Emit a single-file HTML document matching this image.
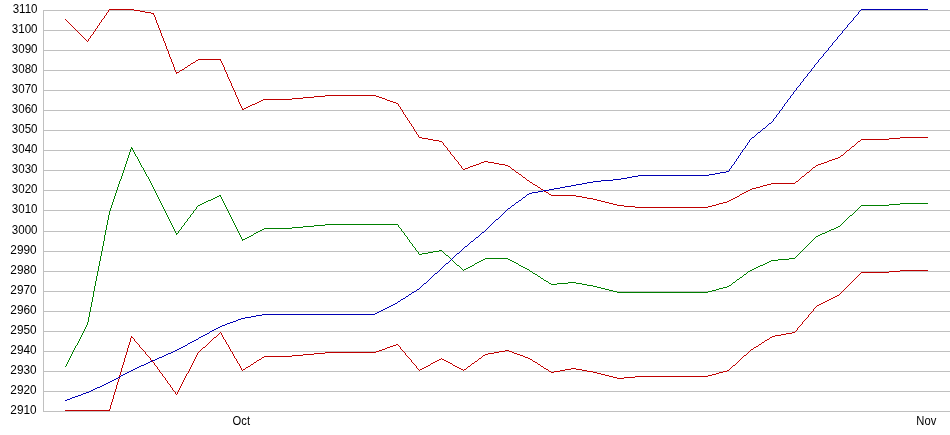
<!DOCTYPE html>
<html><head><meta charset="utf-8"><title>Chart</title>
<style>html,body{margin:0;padding:0;background:#fff;overflow:hidden;}svg{display:block;}text{font-family:"Liberation Sans",Arial,sans-serif;font-size:12px;fill:#000;}</style></head>
<body>
<svg width="950" height="435" viewBox="0 0 950 435">
<rect width="950" height="435" fill="#fff"/>
<g fill="#c0c0c0" shape-rendering="crispEdges">
<rect x="43" y="10" width="907" height="1"/>
<rect x="43" y="30" width="907" height="1"/>
<rect x="43" y="50" width="907" height="1"/>
<rect x="43" y="70" width="907" height="1"/>
<rect x="43" y="90" width="907" height="1"/>
<rect x="43" y="110" width="907" height="1"/>
<rect x="43" y="130" width="907" height="1"/>
<rect x="43" y="150" width="907" height="1"/>
<rect x="43" y="170" width="907" height="1"/>
<rect x="43" y="190" width="907" height="1"/>
<rect x="43" y="210" width="907" height="1"/>
<rect x="43" y="231" width="907" height="1"/>
<rect x="43" y="251" width="907" height="1"/>
<rect x="43" y="271" width="907" height="1"/>
<rect x="43" y="291" width="907" height="1"/>
<rect x="43" y="311" width="907" height="1"/>
<rect x="43" y="331" width="907" height="1"/>
<rect x="43" y="351" width="907" height="1"/>
<rect x="43" y="371" width="907" height="1"/>
<rect x="43" y="391" width="907" height="1"/>
<rect x="43" y="411" width="907" height="1"/>
<rect x="43" y="10" width="1" height="402"/>
</g>
<g shape-rendering="crispEdges">
<path fill="#c00000" d="M109 9h25v1h-25zM134 10h6v1h-6zM140 11h5v1h-5zM145 12h6v1h-6zM151 13h3v1h-3zM198 59h23v1h-23zM196 60h2v1h-2zM193 62h2v1h-2zM191 63h2v1h-2zM188 65h2v1h-2zM185 67h2v1h-2zM182 69h2v1h-2zM180 70h2v1h-2zM176 72h3v1h-3zM325 95h51v1h-51zM314 96h11v1h-11zM376 96h3v1h-3zM303 97h11v1h-11zM379 97h3v1h-3zM292 98h11v1h-11zM382 98h3v1h-3zM263 99h29v1h-29zM385 99h2v1h-2zM261 100h2v1h-2zM387 100h3v1h-3zM259 101h2v1h-2zM390 101h3v1h-3zM257 102h2v1h-2zM393 102h3v1h-3zM255 103h2v1h-2zM396 103h2v1h-2zM252 104h3v1h-3zM250 105h2v1h-2zM248 106h2v1h-2zM246 107h2v1h-2zM244 108h2v1h-2zM242 109h2v1h-2zM419 137h3v1h-3zM900 137h28v1h-28zM422 138h6v1h-6zM889 138h11v1h-11zM428 139h5v1h-5zM861 139h28v1h-28zM433 140h6v1h-6zM439 141h3v1h-3zM858 141h2v1h-2zM852 146h2v1h-2zM847 150h2v1h-2zM841 155h2v1h-2zM838 157h2v1h-2zM835 158h3v1h-3zM832 159h3v1h-3zM829 160h3v1h-3zM484 161h4v1h-4zM827 161h2v1h-2zM481 162h3v1h-3zM488 162h6v1h-6zM824 162h3v1h-3zM479 163h2v1h-2zM494 163h5v1h-5zM821 163h3v1h-3zM476 164h3v1h-3zM499 164h6v1h-6zM818 164h3v1h-3zM473 165h3v1h-3zM505 165h3v1h-3zM816 165h2v1h-2zM470 166h3v1h-3zM508 166h2v1h-2zM468 167h2v1h-2zM813 167h2v1h-2zM465 168h3v1h-3zM463 169h2v1h-2zM512 169h2v1h-2zM516 172h2v1h-2zM807 172h2v1h-2zM519 174h2v1h-2zM802 176h2v1h-2zM523 177h2v1h-2zM527 180h2v1h-2zM796 181h2v1h-2zM530 182h2v1h-2zM771 183h24v1h-24zM533 184h2v1h-2zM767 184h4v1h-4zM535 185h2v1h-2zM763 185h4v1h-4zM760 186h3v1h-3zM538 187h2v1h-2zM756 187h4v1h-4zM752 188h4v1h-4zM541 189h2v1h-2zM750 189h2v1h-2zM748 190h2v1h-2zM544 191h2v1h-2zM746 191h2v1h-2zM546 192h2v1h-2zM744 192h2v1h-2zM742 193h2v1h-2zM549 194h2v1h-2zM740 194h2v1h-2zM551 195h25v1h-25zM576 196h6v1h-6zM737 196h2v1h-2zM582 197h5v1h-5zM735 197h2v1h-2zM587 198h6v1h-6zM733 198h2v1h-2zM593 199h4v1h-4zM731 199h2v1h-2zM597 200h4v1h-4zM729 200h2v1h-2zM601 201h4v1h-4zM727 201h2v1h-2zM605 202h4v1h-4zM723 202h4v1h-4zM609 203h4v1h-4zM719 203h4v1h-4zM613 204h4v1h-4zM716 204h3v1h-3zM617 205h7v1h-7zM712 205h4v1h-4zM624 206h11v1h-11zM708 206h4v1h-4zM635 207h73v1h-73zM65 19h1v1h-1zM66 20h1v1h-1zM67 21h1v1h-1zM68 22h1v1h-1zM69 23h1v1h-1zM70 24h1v1h-1zM71 25h1v1h-1zM72 26h1v1h-1zM73 27h1v1h-1zM74 28h1v1h-1zM75 29h1v1h-1zM76 30h1v1h-1zM77 31h1v1h-1zM78 32h1v1h-1zM79 33h1v1h-1zM80 34h1v1h-1zM81 35h1v1h-1zM82 36h1v1h-1zM83 37h1v1h-1zM84 38h1v1h-1zM85 39h1v1h-1zM86 40h1v1h-1zM87 41h1v1h-1zM88 39h1v2h-1zM89 38h1v1h-1zM90 36h1v2h-1zM91 35h1v1h-1zM92 34h1v1h-1zM93 32h1v2h-1zM94 31h1v1h-1zM95 29h1v2h-1zM96 28h1v1h-1zM97 26h1v2h-1zM98 25h1v1h-1zM99 23h1v2h-1zM100 22h1v1h-1zM101 20h1v2h-1zM102 19h1v1h-1zM103 18h1v1h-1zM104 16h1v2h-1zM105 15h1v1h-1zM106 13h1v2h-1zM107 12h1v1h-1zM108 10h1v2h-1zM153 14h1v1h-1zM154 15h1v2h-1zM155 17h1v3h-1zM156 20h1v3h-1zM157 23h1v2h-1zM158 25h1v3h-1zM159 28h1v2h-1zM160 30h1v3h-1zM161 33h1v3h-1zM162 36h1v2h-1zM163 38h1v3h-1zM164 41h1v2h-1zM165 43h1v3h-1zM166 46h1v3h-1zM167 49h1v2h-1zM168 51h1v3h-1zM169 54h1v3h-1zM170 57h1v2h-1zM171 59h1v3h-1zM172 62h1v2h-1zM173 64h1v3h-1zM174 67h1v3h-1zM175 70h1v2h-1zM176 73h1v1h-1zM179 71h1v1h-1zM184 68h1v1h-1zM187 66h1v1h-1zM190 64h1v1h-1zM195 61h1v1h-1zM220 60h1v1h-1zM221 61h1v2h-1zM222 63h1v2h-1zM223 65h1v2h-1zM224 67h1v3h-1zM225 70h1v2h-1zM226 72h1v2h-1zM227 74h1v3h-1zM228 77h1v2h-1zM229 79h1v2h-1zM230 81h1v2h-1zM231 83h1v3h-1zM232 86h1v2h-1zM233 88h1v2h-1zM234 90h1v2h-1zM235 92h1v3h-1zM236 95h1v2h-1zM237 97h1v2h-1zM238 99h1v3h-1zM239 102h1v2h-1zM240 104h1v2h-1zM241 106h1v2h-1zM242 108h1v1h-1zM398 104h1v2h-1zM399 106h1v1h-1zM400 107h1v2h-1zM401 109h1v1h-1zM402 110h1v2h-1zM403 112h1v2h-1zM404 114h1v1h-1zM405 115h1v2h-1zM406 117h1v1h-1zM407 118h1v2h-1zM408 120h1v1h-1zM409 121h1v2h-1zM410 123h1v1h-1zM411 124h1v2h-1zM412 126h1v1h-1zM413 127h1v2h-1zM414 129h1v2h-1zM415 131h1v1h-1zM416 132h1v2h-1zM417 134h1v1h-1zM418 135h1v2h-1zM442 142h1v1h-1zM443 143h1v2h-1zM444 145h1v1h-1zM445 146h1v1h-1zM446 147h1v1h-1zM447 148h1v2h-1zM448 150h1v1h-1zM449 151h1v1h-1zM450 152h1v2h-1zM451 154h1v1h-1zM452 155h1v1h-1zM453 156h1v1h-1zM454 157h1v2h-1zM455 159h1v1h-1zM456 160h1v1h-1zM457 161h1v1h-1zM458 162h1v2h-1zM459 164h1v1h-1zM460 165h1v1h-1zM461 166h1v2h-1zM462 168h1v1h-1zM510 167h1v1h-1zM511 168h1v1h-1zM514 170h1v1h-1zM515 171h1v1h-1zM518 173h1v1h-1zM521 175h1v1h-1zM522 176h1v1h-1zM525 178h1v1h-1zM526 179h1v1h-1zM529 181h1v1h-1zM532 183h1v1h-1zM537 186h1v1h-1zM540 188h1v1h-1zM543 190h1v1h-1zM548 193h1v1h-1zM739 195h1v1h-1zM795 182h1v1h-1zM798 180h1v1h-1zM799 179h1v1h-1zM800 178h1v1h-1zM801 177h1v1h-1zM804 175h1v1h-1zM805 174h1v1h-1zM806 173h1v1h-1zM809 171h1v1h-1zM810 170h1v1h-1zM811 169h1v1h-1zM812 168h1v1h-1zM815 166h1v1h-1zM840 156h1v1h-1zM843 154h1v1h-1zM844 153h1v1h-1zM845 152h1v1h-1zM846 151h1v1h-1zM849 149h1v1h-1zM850 148h1v1h-1zM851 147h1v1h-1zM854 145h1v1h-1zM855 144h1v1h-1zM856 143h1v1h-1zM857 142h1v1h-1zM860 140h1v1h-1z"/>
<path fill="#c00000" d="M900 270h28v1h-28zM889 271h11v1h-11zM861 272h28v1h-28zM837 295h2v1h-2zM835 296h2v1h-2zM833 297h2v1h-2zM831 298h2v1h-2zM829 299h2v1h-2zM827 300h2v1h-2zM825 301h2v1h-2zM823 302h2v1h-2zM821 303h2v1h-2zM819 304h2v1h-2zM817 305h2v1h-2zM792 332h3v1h-3zM786 333h6v1h-6zM781 334h5v1h-5zM775 335h6v1h-6zM772 336h3v1h-3zM131 337h2v1h-2zM214 337h2v1h-2zM770 337h2v1h-2zM767 339h2v1h-2zM765 340h2v1h-2zM762 342h2v1h-2zM396 344h2v1h-2zM759 344h2v1h-2zM393 345h3v1h-3zM390 346h3v1h-3zM756 346h2v1h-2zM203 347h2v1h-2zM387 347h3v1h-3zM754 347h2v1h-2zM385 348h2v1h-2zM382 349h3v1h-3zM751 349h2v1h-2zM379 350h3v1h-3zM505 350h4v1h-4zM376 351h3v1h-3zM499 351h6v1h-6zM509 351h3v1h-3zM325 352h51v1h-51zM494 352h5v1h-5zM512 352h2v1h-2zM314 353h11v1h-11zM488 353h6v1h-6zM514 353h3v1h-3zM303 354h11v1h-11zM485 354h3v1h-3zM517 354h3v1h-3zM292 355h11v1h-11zM483 355h2v1h-2zM520 355h3v1h-3zM744 355h2v1h-2zM264 356h28v1h-28zM523 356h2v1h-2zM262 357h2v1h-2zM525 357h3v1h-3zM479 358h2v1h-2zM528 358h2v1h-2zM259 359h2v1h-2zM439 359h2v1h-2zM442 359h2v1h-2zM530 359h2v1h-2zM257 360h2v1h-2zM437 360h2v1h-2zM444 360h2v1h-2zM435 361h2v1h-2zM446 361h2v1h-2zM475 361h2v1h-2zM533 361h2v1h-2zM254 362h2v1h-2zM433 362h2v1h-2zM448 362h2v1h-2zM535 362h2v1h-2zM431 363h2v1h-2zM450 363h2v1h-2zM472 363h2v1h-2zM251 364h2v1h-2zM538 364h2v1h-2zM428 365h2v1h-2zM453 365h2v1h-2zM733 365h2v1h-2zM248 366h2v1h-2zM426 366h2v1h-2zM455 366h2v1h-2zM468 366h2v1h-2zM541 366h2v1h-2zM246 367h2v1h-2zM424 367h2v1h-2zM457 367h2v1h-2zM422 368h2v1h-2zM459 368h2v1h-2zM544 368h2v1h-2zM571 368h5v1h-5zM243 369h2v1h-2zM420 369h2v1h-2zM461 369h2v1h-2zM464 369h2v1h-2zM546 369h2v1h-2zM565 369h6v1h-6zM576 369h6v1h-6zM560 370h5v1h-5zM582 370h5v1h-5zM727 370h2v1h-2zM549 371h2v1h-2zM554 371h6v1h-6zM587 371h6v1h-6zM723 371h4v1h-4zM551 372h3v1h-3zM593 372h4v1h-4zM719 372h4v1h-4zM597 373h4v1h-4zM716 373h3v1h-3zM601 374h4v1h-4zM712 374h4v1h-4zM605 375h4v1h-4zM708 375h4v1h-4zM609 376h4v1h-4zM635 376h73v1h-73zM613 377h4v1h-4zM624 377h11v1h-11zM617 378h7v1h-7zM65 410h45v1h-45zM109 409h1v1h-1zM110 405h1v4h-1zM111 402h1v3h-1zM112 399h1v3h-1zM113 395h1v4h-1zM114 392h1v3h-1zM115 389h1v3h-1zM116 385h1v4h-1zM117 382h1v3h-1zM118 379h1v3h-1zM119 375h1v4h-1zM120 372h1v3h-1zM121 368h1v4h-1zM122 365h1v3h-1zM123 362h1v3h-1zM124 358h1v4h-1zM125 355h1v3h-1zM126 352h1v3h-1zM127 348h1v4h-1zM128 345h1v3h-1zM129 342h1v3h-1zM130 338h1v4h-1zM131 336h1v1h-1zM133 338h1v1h-1zM134 339h1v2h-1zM135 341h1v1h-1zM136 342h1v1h-1zM137 343h1v1h-1zM138 344h1v1h-1zM139 345h1v2h-1zM140 347h1v1h-1zM141 348h1v1h-1zM142 349h1v1h-1zM143 350h1v1h-1zM144 351h1v1h-1zM145 352h1v2h-1zM146 354h1v1h-1zM147 355h1v1h-1zM148 356h1v1h-1zM149 357h1v1h-1zM150 358h1v2h-1zM151 360h1v1h-1zM152 361h1v1h-1zM153 362h1v1h-1zM154 363h1v2h-1zM155 365h1v1h-1zM156 366h1v1h-1zM157 367h1v2h-1zM158 369h1v1h-1zM159 370h1v2h-1zM160 372h1v1h-1zM161 373h1v1h-1zM162 374h1v2h-1zM163 376h1v1h-1zM164 377h1v1h-1zM165 378h1v2h-1zM166 380h1v1h-1zM167 381h1v2h-1zM168 383h1v1h-1zM169 384h1v1h-1zM170 385h1v2h-1zM171 387h1v1h-1zM172 388h1v2h-1zM173 390h1v1h-1zM174 391h1v1h-1zM175 392h1v2h-1zM176 394h1v1h-1zM177 392h1v2h-1zM178 390h1v2h-1zM179 388h1v2h-1zM180 386h1v2h-1zM181 384h1v2h-1zM182 382h1v2h-1zM183 380h1v2h-1zM184 378h1v2h-1zM185 376h1v2h-1zM186 374h1v2h-1zM187 373h1v1h-1zM188 371h1v2h-1zM189 369h1v2h-1zM190 367h1v2h-1zM191 365h1v2h-1zM192 363h1v2h-1zM193 361h1v2h-1zM194 359h1v2h-1zM195 357h1v2h-1zM196 355h1v2h-1zM197 353h1v2h-1zM198 352h1v1h-1zM199 351h1v1h-1zM200 350h1v1h-1zM201 349h1v1h-1zM202 348h1v1h-1zM205 346h1v1h-1zM206 345h1v1h-1zM207 344h1v1h-1zM208 343h1v1h-1zM209 342h1v1h-1zM210 341h1v1h-1zM211 340h1v1h-1zM212 339h1v1h-1zM213 338h1v1h-1zM216 336h1v1h-1zM217 335h1v1h-1zM218 334h1v1h-1zM219 333h1v1h-1zM220 332h1v1h-1zM221 333h1v2h-1zM222 335h1v2h-1zM223 337h1v2h-1zM224 339h1v1h-1zM225 340h1v2h-1zM226 342h1v2h-1zM227 344h1v1h-1zM228 345h1v2h-1zM229 347h1v2h-1zM230 349h1v2h-1zM231 351h1v1h-1zM232 352h1v2h-1zM233 354h1v2h-1zM234 356h1v2h-1zM235 358h1v1h-1zM236 359h1v2h-1zM237 361h1v2h-1zM238 363h1v1h-1zM239 364h1v2h-1zM240 366h1v2h-1zM241 368h1v2h-1zM242 370h1v1h-1zM245 368h1v1h-1zM250 365h1v1h-1zM253 363h1v1h-1zM256 361h1v1h-1zM261 358h1v1h-1zM398 345h1v1h-1zM399 346h1v1h-1zM400 347h1v2h-1zM401 349h1v1h-1zM402 350h1v1h-1zM403 351h1v1h-1zM404 352h1v1h-1zM405 353h1v2h-1zM406 355h1v1h-1zM407 356h1v1h-1zM408 357h1v1h-1zM409 358h1v1h-1zM410 359h1v1h-1zM411 360h1v2h-1zM412 362h1v1h-1zM413 363h1v1h-1zM414 364h1v1h-1zM415 365h1v1h-1zM416 366h1v2h-1zM417 368h1v1h-1zM418 369h1v1h-1zM419 370h1v1h-1zM430 364h1v1h-1zM441 358h1v1h-1zM452 364h1v1h-1zM463 370h1v1h-1zM466 368h1v1h-1zM467 367h1v1h-1zM470 365h1v1h-1zM471 364h1v1h-1zM474 362h1v1h-1zM477 360h1v1h-1zM478 359h1v1h-1zM481 357h1v1h-1zM482 356h1v1h-1zM532 360h1v1h-1zM537 363h1v1h-1zM540 365h1v1h-1zM543 367h1v1h-1zM548 370h1v1h-1zM729 369h1v1h-1zM730 368h1v1h-1zM731 367h1v1h-1zM732 366h1v1h-1zM735 364h1v1h-1zM736 363h1v1h-1zM737 362h1v1h-1zM738 361h1v1h-1zM739 360h1v1h-1zM740 359h1v1h-1zM741 358h1v1h-1zM742 357h1v1h-1zM743 356h1v1h-1zM746 354h1v1h-1zM747 353h1v1h-1zM748 352h1v1h-1zM749 351h1v1h-1zM750 350h1v1h-1zM753 348h1v1h-1zM758 345h1v1h-1zM761 343h1v1h-1zM764 341h1v1h-1zM769 338h1v1h-1zM795 331h1v1h-1zM796 330h1v1h-1zM797 328h1v2h-1zM798 327h1v1h-1zM799 326h1v1h-1zM800 325h1v1h-1zM801 324h1v1h-1zM802 322h1v2h-1zM803 321h1v1h-1zM804 320h1v1h-1zM805 319h1v1h-1zM806 318h1v1h-1zM807 317h1v1h-1zM808 315h1v2h-1zM809 314h1v1h-1zM810 313h1v1h-1zM811 312h1v1h-1zM812 311h1v1h-1zM813 309h1v2h-1zM814 308h1v1h-1zM815 307h1v1h-1zM816 306h1v1h-1zM839 294h1v1h-1zM840 293h1v1h-1zM841 292h1v1h-1zM842 291h1v1h-1zM843 290h1v1h-1zM844 289h1v1h-1zM845 288h1v1h-1zM846 287h1v1h-1zM847 286h1v1h-1zM848 285h1v1h-1zM849 284h1v1h-1zM850 283h1v1h-1zM851 282h1v1h-1zM852 281h1v1h-1zM853 280h1v1h-1zM854 279h1v1h-1zM855 278h1v1h-1zM856 277h1v1h-1zM857 276h1v1h-1zM858 275h1v1h-1zM859 274h1v1h-1zM860 273h1v1h-1z"/>
<path fill="#008000" d="M131 148h2v1h-2zM219 195h2v1h-2zM217 196h2v1h-2zM215 197h2v1h-2zM213 198h2v1h-2zM211 199h2v1h-2zM208 200h3v1h-3zM206 201h2v1h-2zM204 202h2v1h-2zM202 203h2v1h-2zM900 203h28v1h-28zM200 204h2v1h-2zM889 204h11v1h-11zM198 205h2v1h-2zM861 205h28v1h-28zM850 215h2v1h-2zM325 224h73v1h-73zM314 225h11v1h-11zM303 226h11v1h-11zM838 226h2v1h-2zM292 227h11v1h-11zM836 227h2v1h-2zM264 228h28v1h-28zM834 228h2v1h-2zM262 229h2v1h-2zM831 229h3v1h-3zM260 230h2v1h-2zM829 230h2v1h-2zM258 231h2v1h-2zM827 231h2v1h-2zM256 232h2v1h-2zM825 232h2v1h-2zM176 233h2v1h-2zM254 233h2v1h-2zM822 233h3v1h-3zM820 234h2v1h-2zM251 235h2v1h-2zM818 235h2v1h-2zM249 236h2v1h-2zM816 236h2v1h-2zM247 237h2v1h-2zM245 238h2v1h-2zM242 239h3v1h-3zM439 250h3v1h-3zM433 251h6v1h-6zM428 252h5v1h-5zM422 253h6v1h-6zM419 254h3v1h-3zM446 255h2v1h-2zM485 258h23v1h-23zM789 258h6v1h-6zM483 259h2v1h-2zM508 259h2v1h-2zM778 259h11v1h-11zM481 260h2v1h-2zM510 260h2v1h-2zM771 260h7v1h-7zM479 261h2v1h-2zM512 261h2v1h-2zM769 261h2v1h-2zM477 262h2v1h-2zM514 262h2v1h-2zM767 262h2v1h-2zM475 263h2v1h-2zM516 263h2v1h-2zM765 263h2v1h-2zM763 264h2v1h-2zM457 265h2v1h-2zM472 265h2v1h-2zM519 265h2v1h-2zM760 265h3v1h-3zM470 266h2v1h-2zM521 266h2v1h-2zM758 266h2v1h-2zM468 267h2v1h-2zM523 267h2v1h-2zM756 267h2v1h-2zM466 268h2v1h-2zM525 268h2v1h-2zM754 268h2v1h-2zM464 269h2v1h-2zM527 269h2v1h-2zM752 269h2v1h-2zM750 270h2v1h-2zM530 271h2v1h-2zM748 271h2v1h-2zM533 273h2v1h-2zM535 274h2v1h-2zM744 274h2v1h-2zM538 276h2v1h-2zM740 277h2v1h-2zM541 278h2v1h-2zM737 279h2v1h-2zM544 280h2v1h-2zM546 281h2v1h-2zM568 282h8v1h-8zM733 282h2v1h-2zM549 283h2v1h-2zM557 283h11v1h-11zM576 283h6v1h-6zM551 284h6v1h-6zM582 284h5v1h-5zM587 285h6v1h-6zM729 285h2v1h-2zM593 286h4v1h-4zM727 286h2v1h-2zM597 287h4v1h-4zM723 287h4v1h-4zM601 288h4v1h-4zM719 288h4v1h-4zM605 289h4v1h-4zM716 289h3v1h-3zM609 290h4v1h-4zM712 290h4v1h-4zM613 291h4v1h-4zM708 291h4v1h-4zM617 292h91v1h-91zM65 366h1v1h-1zM66 364h1v2h-1zM67 362h1v2h-1zM68 360h1v2h-1zM69 358h1v2h-1zM70 356h1v2h-1zM71 354h1v2h-1zM72 352h1v2h-1zM73 350h1v2h-1zM74 348h1v2h-1zM75 346h1v2h-1zM76 345h1v1h-1zM77 343h1v2h-1zM78 341h1v2h-1zM79 339h1v2h-1zM80 337h1v2h-1zM81 335h1v2h-1zM82 333h1v2h-1zM83 331h1v2h-1zM84 329h1v2h-1zM85 327h1v2h-1zM86 325h1v2h-1zM87 322h1v3h-1zM88 317h1v5h-1zM89 312h1v5h-1zM90 307h1v5h-1zM91 302h1v5h-1zM92 297h1v5h-1zM93 291h1v6h-1zM94 286h1v5h-1zM95 281h1v5h-1zM96 276h1v5h-1zM97 271h1v5h-1zM98 266h1v5h-1zM99 261h1v5h-1zM100 256h1v5h-1zM101 251h1v5h-1zM102 246h1v5h-1zM103 241h1v5h-1zM104 235h1v6h-1zM105 230h1v5h-1zM106 225h1v5h-1zM107 220h1v5h-1zM108 215h1v5h-1zM109 211h1v4h-1zM110 208h1v3h-1zM111 205h1v3h-1zM112 202h1v3h-1zM113 199h1v3h-1zM114 196h1v3h-1zM115 193h1v3h-1zM116 190h1v3h-1zM117 187h1v3h-1zM118 184h1v3h-1zM119 181h1v3h-1zM120 179h1v2h-1zM121 176h1v3h-1zM122 173h1v3h-1zM123 170h1v3h-1zM124 167h1v3h-1zM125 164h1v3h-1zM126 161h1v3h-1zM127 158h1v3h-1zM128 155h1v3h-1zM129 152h1v3h-1zM130 149h1v3h-1zM131 147h1v1h-1zM132 149h1v1h-1zM133 150h1v2h-1zM134 152h1v2h-1zM135 154h1v2h-1zM136 156h1v1h-1zM137 157h1v2h-1zM138 159h1v2h-1zM139 161h1v2h-1zM140 163h1v2h-1zM141 165h1v2h-1zM142 167h1v1h-1zM143 168h1v2h-1zM144 170h1v2h-1zM145 172h1v2h-1zM146 174h1v2h-1zM147 176h1v1h-1zM148 177h1v2h-1zM149 179h1v2h-1zM150 181h1v2h-1zM151 183h1v2h-1zM152 185h1v2h-1zM153 187h1v2h-1zM154 189h1v2h-1zM155 191h1v2h-1zM156 193h1v2h-1zM157 195h1v2h-1zM158 197h1v2h-1zM159 199h1v2h-1zM160 201h1v2h-1zM161 203h1v2h-1zM162 205h1v2h-1zM163 207h1v2h-1zM164 209h1v2h-1zM165 211h1v2h-1zM166 213h1v2h-1zM167 215h1v2h-1zM168 217h1v2h-1zM169 219h1v2h-1zM170 221h1v2h-1zM171 223h1v2h-1zM172 225h1v2h-1zM173 227h1v2h-1zM174 229h1v2h-1zM175 231h1v2h-1zM176 234h1v1h-1zM178 231h1v2h-1zM179 230h1v1h-1zM180 229h1v1h-1zM181 227h1v2h-1zM182 226h1v1h-1zM183 225h1v1h-1zM184 223h1v2h-1zM185 222h1v1h-1zM186 221h1v1h-1zM187 219h1v2h-1zM188 218h1v1h-1zM189 217h1v1h-1zM190 215h1v2h-1zM191 214h1v1h-1zM192 213h1v1h-1zM193 211h1v2h-1zM194 210h1v1h-1zM195 209h1v1h-1zM196 207h1v2h-1zM197 206h1v1h-1zM220 196h1v1h-1zM221 197h1v2h-1zM222 199h1v2h-1zM223 201h1v2h-1zM224 203h1v2h-1zM225 205h1v2h-1zM226 207h1v2h-1zM227 209h1v2h-1zM228 211h1v2h-1zM229 213h1v2h-1zM230 215h1v2h-1zM231 217h1v2h-1zM232 219h1v2h-1zM233 221h1v2h-1zM234 223h1v2h-1zM235 225h1v2h-1zM236 227h1v2h-1zM237 229h1v2h-1zM238 231h1v2h-1zM239 233h1v2h-1zM240 235h1v2h-1zM241 237h1v2h-1zM242 240h1v1h-1zM253 234h1v1h-1zM398 225h1v2h-1zM399 227h1v1h-1zM400 228h1v1h-1zM401 229h1v2h-1zM402 231h1v1h-1zM403 232h1v1h-1zM404 233h1v2h-1zM405 235h1v1h-1zM406 236h1v1h-1zM407 237h1v2h-1zM408 239h1v1h-1zM409 240h1v2h-1zM410 242h1v1h-1zM411 243h1v1h-1zM412 244h1v2h-1zM413 246h1v1h-1zM414 247h1v1h-1zM415 248h1v2h-1zM416 250h1v1h-1zM417 251h1v1h-1zM418 252h1v2h-1zM442 251h1v1h-1zM443 252h1v1h-1zM444 253h1v1h-1zM445 254h1v1h-1zM448 256h1v1h-1zM449 257h1v1h-1zM450 258h1v1h-1zM451 259h1v1h-1zM452 260h1v1h-1zM453 261h1v1h-1zM454 262h1v1h-1zM455 263h1v1h-1zM456 264h1v1h-1zM459 266h1v1h-1zM460 267h1v1h-1zM461 268h1v1h-1zM462 269h1v1h-1zM463 270h1v1h-1zM474 264h1v1h-1zM518 264h1v1h-1zM529 270h1v1h-1zM532 272h1v1h-1zM537 275h1v1h-1zM540 277h1v1h-1zM543 279h1v1h-1zM548 282h1v1h-1zM731 284h1v1h-1zM732 283h1v1h-1zM735 281h1v1h-1zM736 280h1v1h-1zM739 278h1v1h-1zM742 276h1v1h-1zM743 275h1v1h-1zM746 273h1v1h-1zM747 272h1v1h-1zM795 257h1v1h-1zM796 256h1v1h-1zM797 255h1v1h-1zM798 254h1v1h-1zM799 253h1v1h-1zM800 252h1v1h-1zM801 251h1v1h-1zM802 250h1v1h-1zM803 249h1v1h-1zM804 248h1v1h-1zM805 247h1v1h-1zM806 246h1v1h-1zM807 245h1v1h-1zM808 244h1v1h-1zM809 243h1v1h-1zM810 242h1v1h-1zM811 241h1v1h-1zM812 240h1v1h-1zM813 239h1v1h-1zM814 238h1v1h-1zM815 237h1v1h-1zM840 225h1v1h-1zM841 224h1v1h-1zM842 223h1v1h-1zM843 222h1v1h-1zM844 221h1v1h-1zM845 220h1v1h-1zM846 219h1v1h-1zM847 218h1v1h-1zM848 217h1v1h-1zM849 216h1v1h-1zM852 214h1v1h-1zM853 213h1v1h-1zM854 212h1v1h-1zM855 211h1v1h-1zM856 210h1v1h-1zM857 209h1v1h-1zM858 208h1v1h-1zM859 207h1v1h-1zM860 206h1v1h-1z"/>
<path fill="#0000b4" d="M861 9h67v1h-67zM769 123h2v1h-2zM763 128h2v1h-2zM758 132h2v1h-2zM752 137h2v1h-2zM726 171h3v1h-3zM720 172h6v1h-6zM715 173h5v1h-5zM709 174h6v1h-6zM638 175h71v1h-71zM632 176h6v1h-6zM627 177h5v1h-5zM621 178h6v1h-6zM613 179h8v1h-8zM601 180h12v1h-12zM593 181h8v1h-8zM587 182h6v1h-6zM582 183h5v1h-5zM576 184h6v1h-6zM571 185h5v1h-5zM565 186h6v1h-6zM560 187h5v1h-5zM554 188h6v1h-6zM549 189h5v1h-5zM543 190h6v1h-6zM538 191h5v1h-5zM532 192h6v1h-6zM529 193h3v1h-3zM527 194h2v1h-2zM523 197h2v1h-2zM519 200h2v1h-2zM516 202h2v1h-2zM512 205h2v1h-2zM508 208h2v1h-2zM496 219h2v1h-2zM482 232h2v1h-2zM476 237h2v1h-2zM471 241h2v1h-2zM465 246h2v1h-2zM457 253h2v1h-2zM446 263h2v1h-2zM435 273h2v1h-2zM424 283h2v1h-2zM417 289h2v1h-2zM414 291h2v1h-2zM412 292h2v1h-2zM409 294h2v1h-2zM406 296h2v1h-2zM403 298h2v1h-2zM401 299h2v1h-2zM398 301h2v1h-2zM395 303h2v1h-2zM393 304h2v1h-2zM391 305h2v1h-2zM389 306h2v1h-2zM387 307h2v1h-2zM385 308h2v1h-2zM383 309h2v1h-2zM381 310h2v1h-2zM379 311h2v1h-2zM377 312h2v1h-2zM375 313h2v1h-2zM262 314h113v1h-113zM256 315h6v1h-6zM251 316h5v1h-5zM245 317h6v1h-6zM241 318h4v1h-4zM238 319h3v1h-3zM236 320h2v1h-2zM233 321h3v1h-3zM230 322h3v1h-3zM227 323h3v1h-3zM225 324h2v1h-2zM222 325h3v1h-3zM220 326h2v1h-2zM218 327h2v1h-2zM216 328h2v1h-2zM214 329h2v1h-2zM212 330h2v1h-2zM210 331h2v1h-2zM207 333h2v1h-2zM205 334h2v1h-2zM203 335h2v1h-2zM201 336h2v1h-2zM199 337h2v1h-2zM196 339h2v1h-2zM194 340h2v1h-2zM192 341h2v1h-2zM190 342h2v1h-2zM188 343h2v1h-2zM185 345h2v1h-2zM183 346h2v1h-2zM181 347h2v1h-2zM179 348h2v1h-2zM177 349h2v1h-2zM175 350h2v1h-2zM173 351h2v1h-2zM171 352h2v1h-2zM168 353h3v1h-3zM166 354h2v1h-2zM164 355h2v1h-2zM162 356h2v1h-2zM159 357h3v1h-3zM157 358h2v1h-2zM155 359h2v1h-2zM152 360h3v1h-3zM150 361h2v1h-2zM148 362h2v1h-2zM146 363h2v1h-2zM144 364h2v1h-2zM141 365h3v1h-3zM139 366h2v1h-2zM137 367h2v1h-2zM135 368h2v1h-2zM133 369h2v1h-2zM131 370h2v1h-2zM129 371h2v1h-2zM127 372h2v1h-2zM125 373h2v1h-2zM123 374h2v1h-2zM121 375h2v1h-2zM118 377h2v1h-2zM116 378h2v1h-2zM114 379h2v1h-2zM112 380h2v1h-2zM110 381h2v1h-2zM108 382h2v1h-2zM106 383h2v1h-2zM104 384h2v1h-2zM102 385h2v1h-2zM100 386h2v1h-2zM97 387h3v1h-3zM95 388h2v1h-2zM93 389h2v1h-2zM91 390h2v1h-2zM89 391h2v1h-2zM86 392h3v1h-3zM83 393h3v1h-3zM81 394h2v1h-2zM78 395h3v1h-3zM75 396h3v1h-3zM72 397h3v1h-3zM70 398h2v1h-2zM67 399h3v1h-3zM65 400h2v1h-2zM120 376h1v1h-1zM187 344h1v1h-1zM198 338h1v1h-1zM209 332h1v1h-1zM397 302h1v1h-1zM400 300h1v1h-1zM405 297h1v1h-1zM408 295h1v1h-1zM411 293h1v1h-1zM416 290h1v1h-1zM419 288h1v1h-1zM420 287h1v1h-1zM421 286h1v1h-1zM422 285h1v1h-1zM423 284h1v1h-1zM426 282h1v1h-1zM427 281h1v1h-1zM428 280h1v1h-1zM429 279h1v1h-1zM430 278h1v1h-1zM431 277h1v1h-1zM432 276h1v1h-1zM433 275h1v1h-1zM434 274h1v1h-1zM437 272h1v1h-1zM438 271h1v1h-1zM439 270h1v1h-1zM440 269h1v1h-1zM441 268h1v1h-1zM442 267h1v1h-1zM443 266h1v1h-1zM444 265h1v1h-1zM445 264h1v1h-1zM448 262h1v1h-1zM449 261h1v1h-1zM450 260h1v1h-1zM451 259h1v1h-1zM452 258h1v1h-1zM453 257h1v1h-1zM454 256h1v1h-1zM455 255h1v1h-1zM456 254h1v1h-1zM459 252h1v1h-1zM460 251h1v1h-1zM461 250h1v1h-1zM462 249h1v1h-1zM463 248h1v1h-1zM464 247h1v1h-1zM467 245h1v1h-1zM468 244h1v1h-1zM469 243h1v1h-1zM470 242h1v1h-1zM473 240h1v1h-1zM474 239h1v1h-1zM475 238h1v1h-1zM478 236h1v1h-1zM479 235h1v1h-1zM480 234h1v1h-1zM481 233h1v1h-1zM484 231h1v1h-1zM485 230h1v1h-1zM486 229h1v1h-1zM487 228h1v1h-1zM488 227h1v1h-1zM489 226h1v1h-1zM490 225h1v1h-1zM491 224h1v1h-1zM492 223h1v1h-1zM493 222h1v1h-1zM494 221h1v1h-1zM495 220h1v1h-1zM498 218h1v1h-1zM499 217h1v1h-1zM500 216h1v1h-1zM501 215h1v1h-1zM502 214h1v1h-1zM503 213h1v1h-1zM504 212h1v1h-1zM505 211h1v1h-1zM506 210h1v1h-1zM507 209h1v1h-1zM510 207h1v1h-1zM511 206h1v1h-1zM514 204h1v1h-1zM515 203h1v1h-1zM518 201h1v1h-1zM521 199h1v1h-1zM522 198h1v1h-1zM525 196h1v1h-1zM526 195h1v1h-1zM729 169h1v2h-1zM730 168h1v1h-1zM731 166h1v2h-1zM732 165h1v1h-1zM733 164h1v1h-1zM734 162h1v2h-1zM735 161h1v1h-1zM736 159h1v2h-1zM737 158h1v1h-1zM738 156h1v2h-1zM739 155h1v1h-1zM740 153h1v2h-1zM741 152h1v1h-1zM742 150h1v2h-1zM743 149h1v1h-1zM744 148h1v1h-1zM745 146h1v2h-1zM746 145h1v1h-1zM747 143h1v2h-1zM748 142h1v1h-1zM749 140h1v2h-1zM750 139h1v1h-1zM751 138h1v1h-1zM754 136h1v1h-1zM755 135h1v1h-1zM756 134h1v1h-1zM757 133h1v1h-1zM760 131h1v1h-1zM761 130h1v1h-1zM762 129h1v1h-1zM765 127h1v1h-1zM766 126h1v1h-1zM767 125h1v1h-1zM768 124h1v1h-1zM771 122h1v1h-1zM772 121h1v1h-1zM773 119h1v2h-1zM774 118h1v1h-1zM775 117h1v1h-1zM776 115h1v2h-1zM777 114h1v1h-1zM778 113h1v1h-1zM779 111h1v2h-1zM780 110h1v1h-1zM781 109h1v1h-1zM782 107h1v2h-1zM783 106h1v1h-1zM784 104h1v2h-1zM785 103h1v1h-1zM786 102h1v1h-1zM787 100h1v2h-1zM788 99h1v1h-1zM789 98h1v1h-1zM790 96h1v2h-1zM791 95h1v1h-1zM792 94h1v1h-1zM793 92h1v2h-1zM794 91h1v1h-1zM795 90h1v1h-1zM796 88h1v2h-1zM797 87h1v1h-1zM798 86h1v1h-1zM799 85h1v1h-1zM800 83h1v2h-1zM801 82h1v1h-1zM802 81h1v1h-1zM803 79h1v2h-1zM804 78h1v1h-1zM805 77h1v1h-1zM806 76h1v1h-1zM807 74h1v2h-1zM808 73h1v1h-1zM809 72h1v1h-1zM810 71h1v1h-1zM811 69h1v2h-1zM812 68h1v1h-1zM813 67h1v1h-1zM814 65h1v2h-1zM815 64h1v1h-1zM816 63h1v1h-1zM817 62h1v1h-1zM818 60h1v2h-1zM819 59h1v1h-1zM820 58h1v1h-1zM821 57h1v1h-1zM822 56h1v1h-1zM823 54h1v2h-1zM824 53h1v1h-1zM825 52h1v1h-1zM826 51h1v1h-1zM827 50h1v1h-1zM828 48h1v2h-1zM829 47h1v1h-1zM830 46h1v1h-1zM831 45h1v1h-1zM832 43h1v2h-1zM833 42h1v1h-1zM834 41h1v1h-1zM835 40h1v1h-1zM836 39h1v1h-1zM837 37h1v2h-1zM838 36h1v1h-1zM839 35h1v1h-1zM840 34h1v1h-1zM841 33h1v1h-1zM842 31h1v2h-1zM843 30h1v1h-1zM844 29h1v1h-1zM845 28h1v1h-1zM846 27h1v1h-1zM847 25h1v2h-1zM848 24h1v1h-1zM849 23h1v1h-1zM850 22h1v1h-1zM851 21h1v1h-1zM852 20h1v1h-1zM853 18h1v2h-1zM854 17h1v1h-1zM855 16h1v1h-1zM856 15h1v1h-1zM857 14h1v1h-1zM858 12h1v2h-1zM859 11h1v1h-1zM860 10h1v1h-1z"/>
</g>
<g text-anchor="end">
<text transform="translate(37.5 13) scale(0.965 1.045)">3110</text>
<text transform="translate(37.5 33) scale(0.965 1.045)">3100</text>
<text transform="translate(37.5 53) scale(0.965 1.045)">3090</text>
<text transform="translate(37.5 73) scale(0.965 1.045)">3080</text>
<text transform="translate(37.5 93) scale(0.965 1.045)">3070</text>
<text transform="translate(37.5 113) scale(0.965 1.045)">3060</text>
<text transform="translate(37.5 133) scale(0.965 1.045)">3050</text>
<text transform="translate(37.5 153) scale(0.965 1.045)">3040</text>
<text transform="translate(37.5 173) scale(0.965 1.045)">3030</text>
<text transform="translate(37.5 193) scale(0.965 1.045)">3020</text>
<text transform="translate(37.5 213) scale(0.965 1.045)">3010</text>
<text transform="translate(37.5 234) scale(0.965 1.045)">3000</text>
<text transform="translate(36.6 254) scale(0.985 1.045)">2990</text>
<text transform="translate(36.6 274) scale(0.985 1.045)">2980</text>
<text transform="translate(36.6 294) scale(0.985 1.045)">2970</text>
<text transform="translate(36.6 314) scale(0.985 1.045)">2960</text>
<text transform="translate(36.6 334) scale(0.985 1.045)">2950</text>
<text transform="translate(36.6 354) scale(0.985 1.045)">2940</text>
<text transform="translate(36.6 374) scale(0.985 1.045)">2930</text>
<text transform="translate(36.6 394) scale(0.985 1.045)">2920</text>
<text transform="translate(36.6 414) scale(0.985 1.045)">2910</text>
</g>
<g>
<text transform="translate(232.6 425) scale(0.935 1.055)">Oct</text>
<text transform="translate(916.3 425) scale(0.935 1.055)">Nov</text>
</g>
</svg>
</body></html>
